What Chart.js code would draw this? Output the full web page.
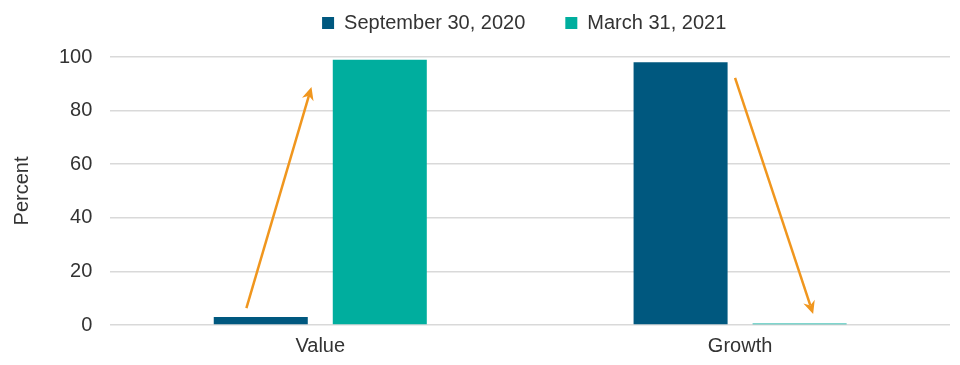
<!DOCTYPE html>
<html>
<head>
<meta charset="utf-8">
<script src="https://cdn.jsdelivr.net/npm/chart.js@4"></script>
<style>
html,body{margin:0;padding:0;background:#fff;}
#wrap{width:960px;height:365px;position:relative;}
</style>
</head>
<body>
<div id="wrap"><canvas id="c"></canvas></div>
<script>
const categories = ["Value", "Growth"];
const seriesNames = ["September 30, 2020", "March 31, 2021"];
const sep2020 = [3, 98];
const mar2021 = [99, 0.6];
const yTicks = [0, 20, 40, 60, 80, 100];
// arrows in data units: [category index, offset in category widths, value]
const arrows = [
  {from: [0, -0.176, 6.3], to: [0, -0.021, 88.8]},
  {from: [1, -0.012, 92.2], to: [1, 0.174, 4.1]}
];

const arrowPlugin = {
  id: 'arrows',
  afterDatasetsDraw(chart) {
    const ctx = chart.ctx, xs = chart.scales.x, ys = chart.scales.y;
    const catW = xs.getPixelForValue(1) - xs.getPixelForValue(0);
    const pt = p => [xs.getPixelForValue(p[0]) + p[1] * catW, ys.getPixelForValue(p[2])];
    ctx.save();
    ctx.strokeStyle = '#f0961e';
    ctx.fillStyle = '#f0961e';
    ctx.lineWidth = 2.5;
    arrows.forEach(a => {
      const [x1, y1] = pt(a.from), [x2, y2] = pt(a.to);
      const ang = Math.atan2(y2 - y1, x2 - x1);
      const hl = 13, hw = 6;
      const bx = x2 - hl * Math.cos(ang), by = y2 - hl * Math.sin(ang);
      ctx.beginPath();
      ctx.moveTo(x1, y1);
      ctx.lineTo(x2 - (hl - 4) * Math.cos(ang), y2 - (hl - 4) * Math.sin(ang));
      ctx.stroke();
      ctx.beginPath();
      ctx.moveTo(x2, y2);
      ctx.lineTo(bx + hw * Math.sin(ang), by - hw * Math.cos(ang));
      ctx.lineTo(x2 - (hl - 4) * Math.cos(ang), y2 - (hl - 4) * Math.sin(ang));
      ctx.lineTo(bx - hw * Math.sin(ang), by + hw * Math.cos(ang));
      ctx.closePath();
      ctx.fill();
    });
    ctx.restore();
  }
};

// centre the legend over the plot area and lift it a little
const legendPlace = {
  id: 'legendPlace',
  afterLayout(chart) {
    const lg = chart.legend, ca = chart.chartArea;
    lg.left = ca.left - 6;
    lg.right = ca.right - 6;
    lg.top -= 14;
    lg.bottom -= 14;
  }
};

Chart.defaults.font.family = '"Liberation Sans", Arial, Helvetica, sans-serif';
Chart.defaults.color = '#333333';

new Chart(document.getElementById('c'), {
  type: 'bar',
  data: {
    labels: categories,
    datasets: [
      {label: seriesNames[0], data: sep2020, backgroundColor: '#00587f', categoryPercentage: 0.567, barPercentage: 0.79},
      {label: seriesNames[1], data: mar2021, backgroundColor: '#00ae9e', categoryPercentage: 0.567, barPercentage: 0.79}
    ]
  },
  options: {
    responsive: true,
    maintainAspectRatio: false,
    animation: false,
    layout: {padding: {top: -13, right: 10, bottom: 6, left: 6}},
    plugins: {
      legend: {
        position: 'top',
        labels: {boxWidth: 12, boxHeight: 12, padding: 40, font: {size: 20}, color: '#333'}
      },
      tooltip: {enabled: false}
    },
    scales: {
      x: {
        grid: {display: false},
        border: {display: false},
        ticks: {font: {size: 20}, color: '#333', padding: 1}
      },
      y: {
        min: 0, max: 100,
        afterBuildTicks: s => { s.ticks = yTicks.map(v => ({value: v})); },
        grid: {color: '#d9d9d9', lineWidth: 1.5, drawTicks: false},
        border: {display: false},
        ticks: {font: {size: 20}, color: '#333', padding: 18},
        title: {display: true, text: 'Percent', font: {size: 20}, color: '#333', padding: {top: 4, bottom: 7}}
      }
    }
  },
  plugins: [arrowPlugin, legendPlace]
});
</script>
</body>
</html>
